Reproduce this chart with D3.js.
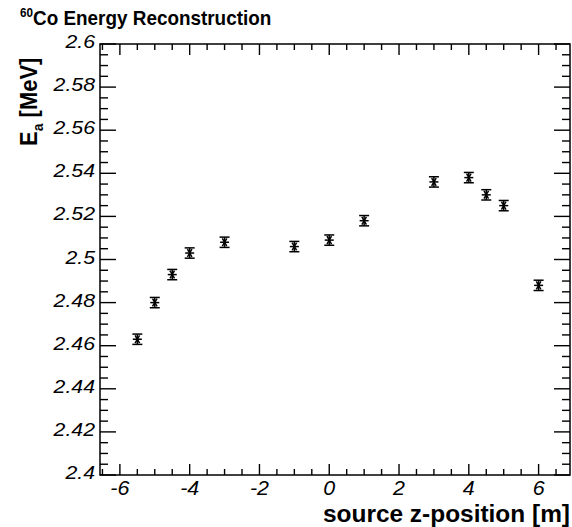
<!DOCTYPE html>
<html><head><meta charset="utf-8">
<script src="https://cdn.jsdelivr.net/npm/d3@7"></script>
<style>body{margin:0;background:#fff}svg{display:block}</style>
</head><body>
<script>
const zPos   = [-5.5, -5, -4.5, -4, -3, -1, 0, 1, 3, 4, 4.5, 5, 6];
const energy = [2.463, 2.480, 2.493, 2.503, 2.508, 2.506, 2.509, 2.518, 2.536, 2.538, 2.530, 2.525, 2.488];
const errors = [0.001, 0.001, 0.001, 0.001, 0.001, 0.001, 0.001, 0.001, 0.001, 0.001, 0.001, 0.001, 0.001];
const xTicks = [-6, -4, -2, 0, 2, 4, 6];
const yTicks = [2.4, 2.42, 2.44, 2.46, 2.48, 2.5, 2.52, 2.54, 2.56, 2.58, 2.6];

const W = 572, H = 527;
const L = 100, R = 570, T = 44, B = 475;
const svg = d3.select("body").append("svg").attr("width", W).attr("height", H);
const x = d3.scaleLinear().domain([-6.57, 6.9]).range([L, R]);
const y = d3.scaleLinear().domain([2.4, 2.6]).range([B, T]);
const font = "Liberation Sans, Arial, sans-serif";

// frame
svg.append("rect").attr("x", L).attr("y", T).attr("width", R - L).attr("height", B - T)
  .attr("fill", "none").attr("stroke", "#000").attr("stroke-width", 1.5);

// ticks
const xMinor = d3.range(-6.5, 7, 0.5).filter(v => x(v) > L && x(v) < R);
const yMinor = d3.range(0, 41).map(i => 2.4 + i * 0.005);
const tk = svg.append("g").attr("stroke", "#000").attr("stroke-width", 1.4);
xMinor.forEach(v => {
  const major = Math.abs(v - Math.round(v)) < 1e-6 && Math.round(v) % 2 === 0;
  const len = major ? 11 : 6;
  tk.append("line").attr("x1", x(v)).attr("x2", x(v)).attr("y1", B).attr("y2", B - len);
  tk.append("line").attr("x1", x(v)).attr("x2", x(v)).attr("y1", T).attr("y2", T + len);
});
yMinor.forEach((v, i) => {
  const major = i % 4 === 0;
  const len = major ? 16 : 8;
  tk.append("line").attr("x1", L).attr("x2", L + len).attr("y1", y(v)).attr("y2", y(v));
  tk.append("line").attr("x1", R).attr("x2", R - len).attr("y1", y(v)).attr("y2", y(v));
});

// tick labels
svg.append("g").selectAll("text").data(xTicks).join("text")
  .attr("transform", d => `translate(${x(d)},495) scale(1.1,1)`).attr("text-anchor", "middle")
  .attr("font-family", font).attr("font-style", "italic").attr("font-size", 19.5)
  .text(d => d);
svg.append("g").selectAll("text").data(yTicks).join("text")
  .attr("transform", d => `translate(95,${y(d) + 4}) scale(1.15,1)`).attr("text-anchor", "end")
  .attr("font-family", font).attr("font-style", "italic").attr("font-size", 18.5)
  .text(d => d3.format("")(+d.toFixed(2)));

// data points: error bars + asterisk markers
const pts = svg.append("g").attr("stroke", "#000").attr("stroke-width", 1.5);
zPos.forEach((z, i) => {
  const cx = x(z), cy = y(energy[i]);
  const y1 = y(energy[i] + errors[i]), y2 = y(energy[i] - errors[i]);
  pts.append("line").attr("x1", cx).attr("x2", cx).attr("y1", y1 - 3).attr("y2", y2 + 3);
  pts.append("line").attr("x1", cx - 5).attr("x2", cx + 5).attr("y1", y1 - 3).attr("y2", y1 - 3);
  pts.append("line").attr("x1", cx - 5).attr("x2", cx + 5).attr("y1", y2 + 3).attr("y2", y2 + 3);
  const r = 4.5;
  [0, 60, 120].forEach(a => {
    const rad = a * Math.PI / 180;
    pts.append("line").attr("x1", cx - r * Math.cos(rad)).attr("x2", cx + r * Math.cos(rad))
      .attr("y1", cy - r * Math.sin(rad)).attr("y2", cy + r * Math.sin(rad));
  });
});

// title
const title = svg.append("text").attr("transform", "translate(20,25) scale(0.9,1)")
  .attr("font-family", font).attr("font-weight", "bold").attr("font-size", 21);
title.append("tspan").attr("font-size", 13).attr("dy", -8).text("60");
title.append("tspan").attr("dy", 8).text("Co Energy Reconstruction");

// y label
const yl = svg.append("text").attr("transform", "translate(37,146) rotate(-90) scale(1,1.1)")
  .attr("font-family", font).attr("font-weight", "bold").attr("font-size", 22);
yl.append("tspan").text("E");
yl.append("tspan").attr("font-size", 14).attr("dy", 5).text("a");
yl.append("tspan").attr("dy", -5).text(" [MeV]");

// x label
svg.append("text").attr("transform", "translate(570,522) scale(1.04,1)").attr("text-anchor", "end")
  .attr("font-family", font).attr("font-weight", "bold").attr("font-size", 23.5)
  .text("source z-position [m]");
</script>
</body></html>
